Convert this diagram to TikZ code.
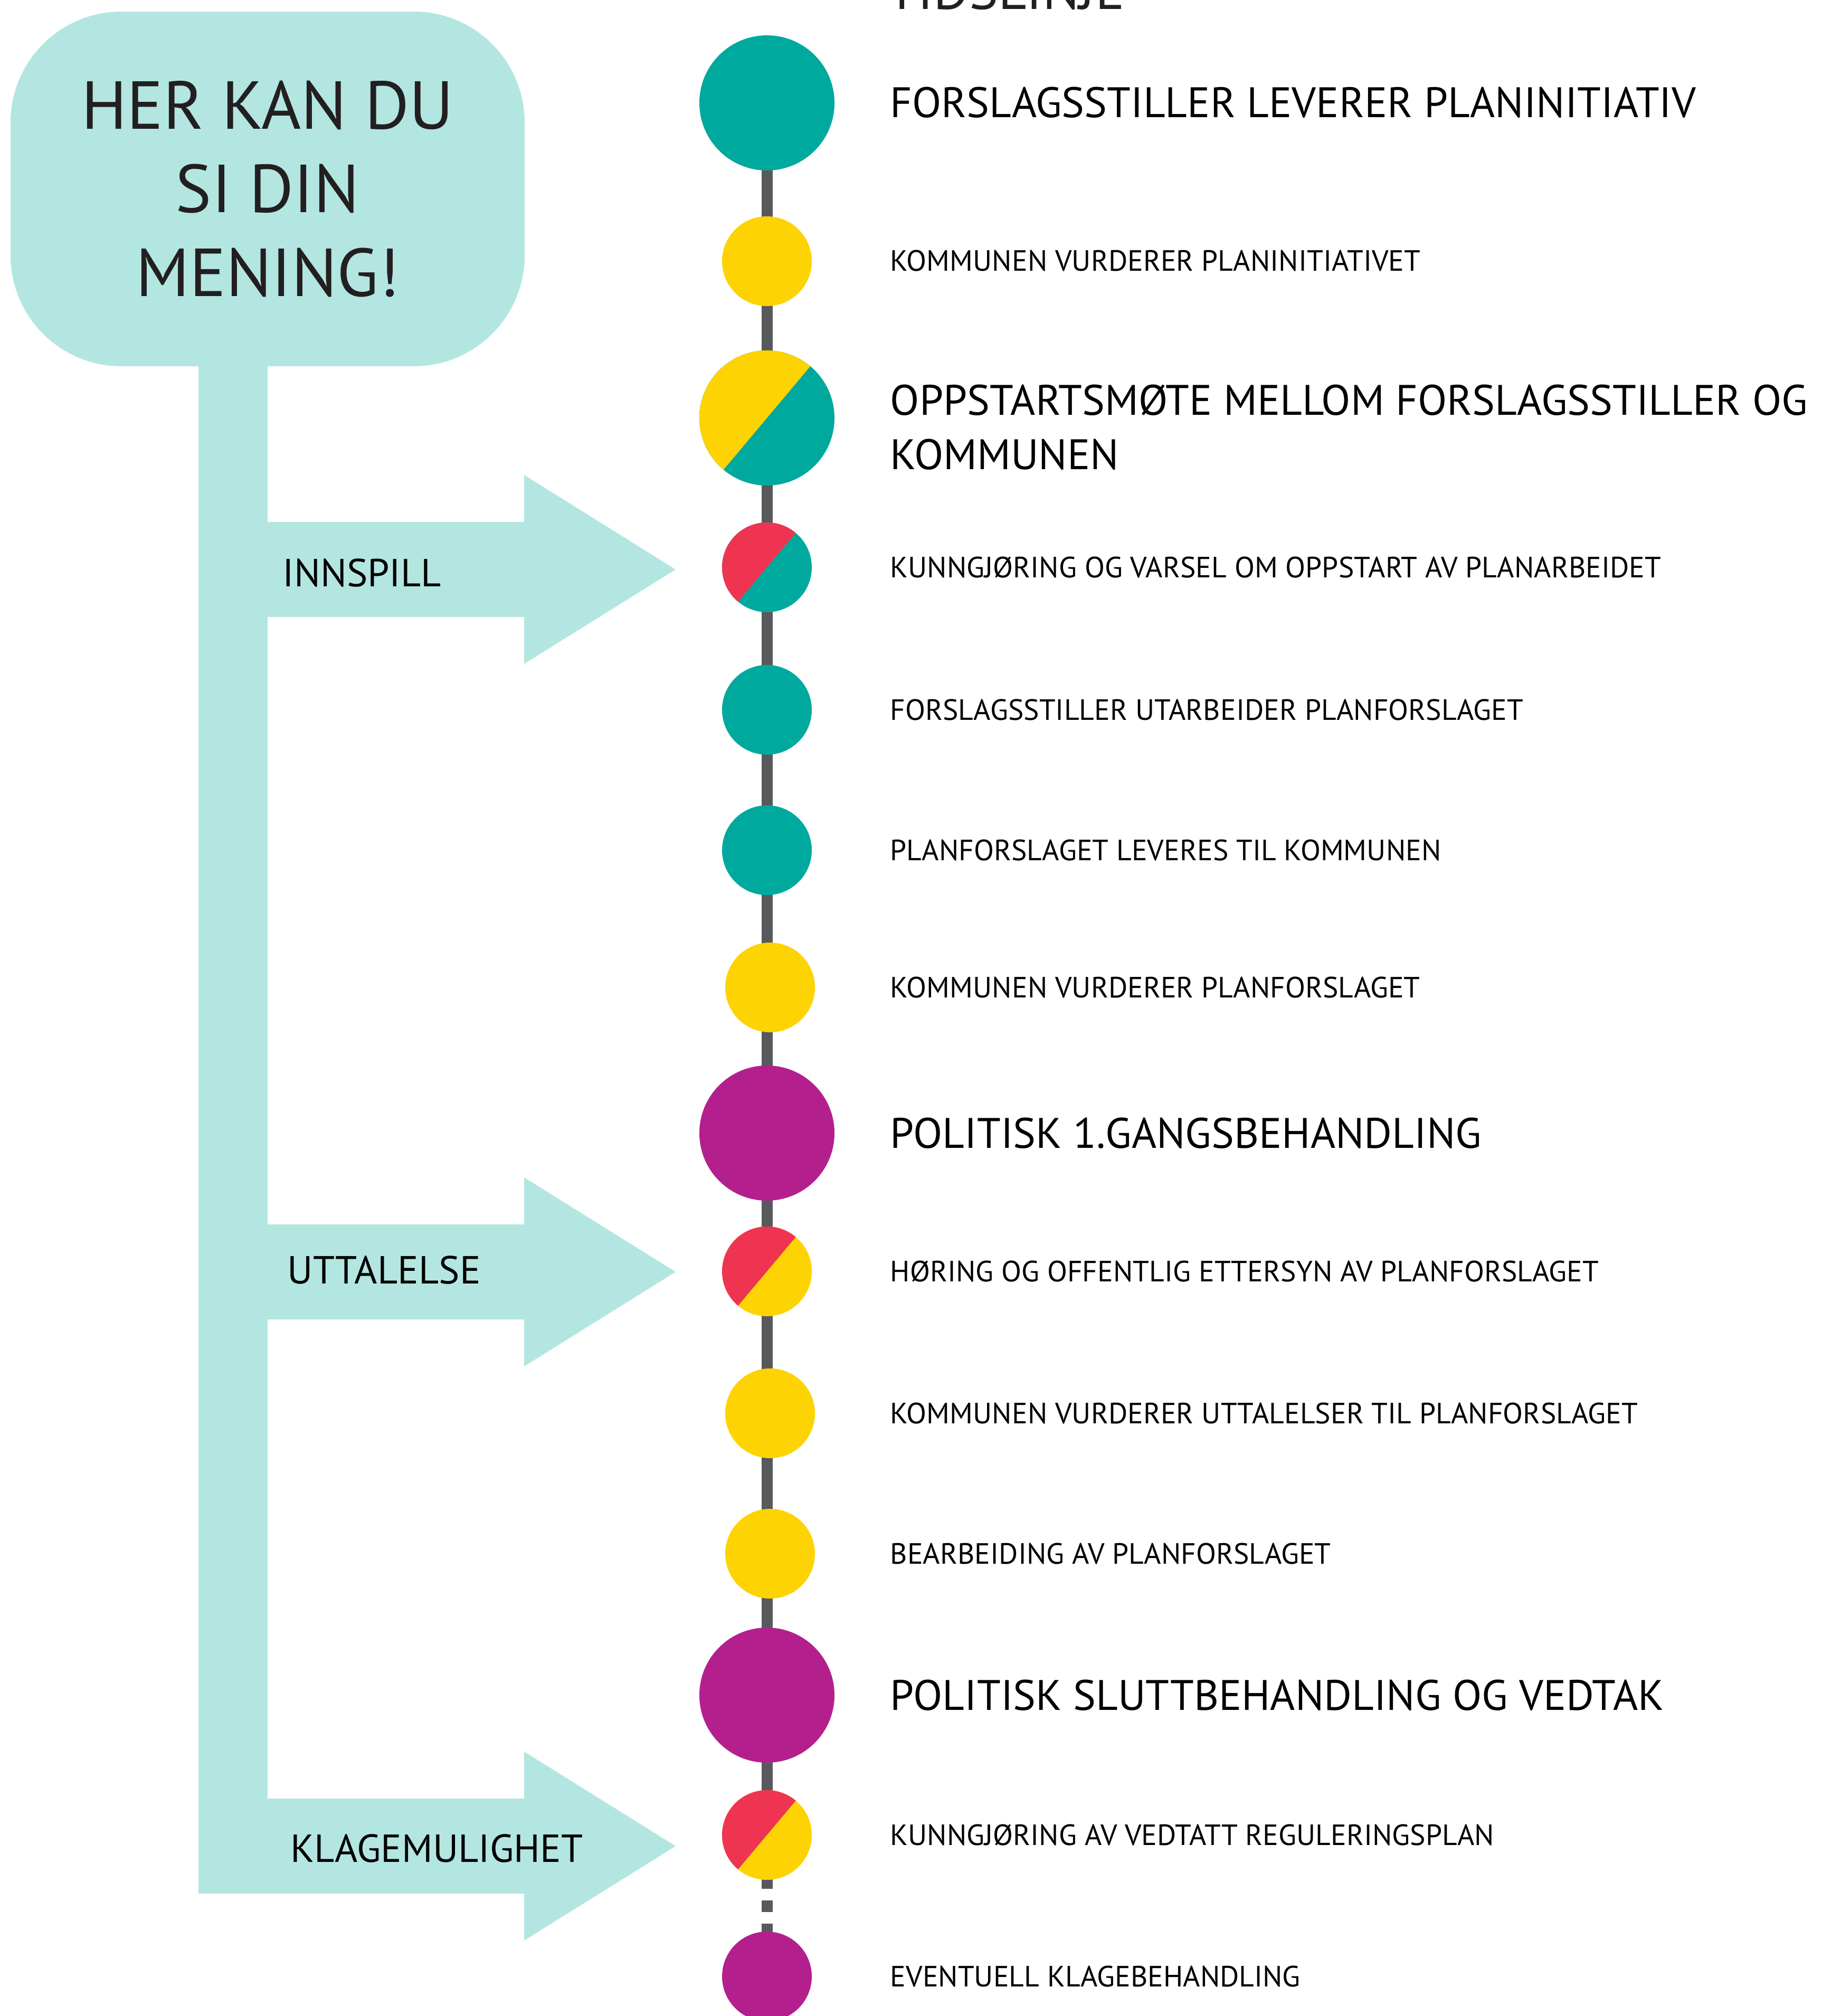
\documentclass[tikz,border=0pt]{standalone}
\usepackage{fontspec}
\setmainfont{PT Sans}
\usetikzlibrary{positioning}
\definecolor{mint}{HTML}{B3E6E1}
\definecolor{plteal}{HTML}{00A99D}
\definecolor{plyellow}{HTML}{FDD303}
\definecolor{plred}{HTML}{EF3451}
\definecolor{plmagenta}{HTML}{B3208D}
\definecolor{linegray}{HTML}{58595B}
\definecolor{ink}{HTML}{231F20}
\tikzset{
  dot/.style={circle,inner sep=0pt,minimum size=1.70cm},
  bigdot/.style={circle,inner sep=0pt,minimum size=2.56cm},
  half/.style={path picture={\fill[#1] (path picture bounding box.center)--++(50:2) arc[start angle=50,end angle=230,radius=2]--cycle;}},
  smalltxt/.style={anchor=base west,inner sep=0pt,text=black,font=\fontsize{15.8}{18}\selectfont},
  bigtxt/.style={anchor=base west,inner sep=0pt,text=black,font=\fontsize{23}{28}\selectfont},
  armtxt/.style={anchor=base west,inner sep=0pt,text=black,font=\fontsize{21.1}{25}\selectfont},
  bubble/.style={fill=mint,rounded corners=2.1cm,minimum width=9.74cm,minimum height=6.72cm,align=center,text=ink,font=\fontsize{36.6}{45.2}\selectfont},
}
\begin{document}
\begin{tikzpicture}
\useasboundingbox[fill=white](0,0) rectangle (34.87,-38.20);
%title
\node[anchor=base west,inner sep=0pt,text=ink,font=\fontsize{29.5}{34}\selectfont] (tidslinje) at (16.80,-0.18) {TIDSLINJE};
%bubble and arms
\fill[mint](3.76,-6.5) rectangle (5.07,-35.88);
\node[bubble] (mening) at (5.07,-3.58) {HER KAN DU\\SI DIN\\MENING!};
\foreach \y in {10.79,24.10,34.98}{\fill[mint](5.06,-\y)++(0,0.9)--++(4.87,0)--++(0,0.89)--++(2.87,-1.79)--++(-2.87,-1.79)--++(0,0.89)--++(-4.87,0)--cycle;}
\foreach \x/\y/\t in {5.35/11.11/INNSPILL,5.44/24.32/UTTALELSE,5.50/35.28/KLAGEMULIGHET}{\node[armtxt] (\t) at (\x,-\y) {\t};}
%timeline
\foreach \i/\x/\y in {1/14.53/1.95,2/14.53/4.95,3/14.53/7.92,4/14.53/10.75,5/14.53/13.45,6/14.53/16.11,7/14.59/18.71,8/14.53/21.47,9/14.53/24.09,10/14.59/26.78,11/14.59/29.44,12/14.53/32.12,13/14.53/34.77,14/14.53/37.45}{\coordinate (s\i) at (\x,-\y);}
\draw[linegray,line width=0.21cm](s1)--(s13);
\draw[linegray,line width=0.21cm,dash pattern=on 0.22cm off 0.22cm,dash phase=0.08cm](s13)--(s14);
\node[bigdot,fill=plteal] (c1) at (s1) {};
\node[dot,fill=plyellow] (c2) at (s2) {};
\node[bigdot,fill=plteal,half=plyellow] (c3) at (s3) {};
\node[dot,fill=plteal,half=plred] (c4) at (s4) {};
\node[dot,fill=plteal] (c5) at (s5) {};
\node[dot,fill=plteal] (c6) at (s6) {};
\node[dot,fill=plyellow] (c7) at (s7) {};
\node[bigdot,fill=plmagenta] (c8) at (s8) {};
\node[dot,fill=plyellow,half=plred] (c9) at (s9) {};
\node[dot,fill=plyellow] (c10) at (s10) {};
\node[dot,fill=plyellow] (c11) at (s11) {};
\node[bigdot,fill=plmagenta] (c12) at (s12) {};
\node[dot,fill=plyellow,half=plred] (c13) at (s13) {};
\node[dot,fill=plmagenta] (c14) at (s14) {};
%steps
\node[bigtxt] (t1) at (16.86,-2.23) {FORSLAGSSTILLER LEVERER PLANINITIATIV};
\node[smalltxt] (t2) at (16.86,-5.14) {KOMMUNEN VURDERER PLANINITIATIVET};
\node[bigtxt] (t3) at (16.86,-7.87) {OPPSTARTSMØTE MELLOM FORSLAGSSTILLER OG};
\node[bigtxt] (t3b) at (16.86,-8.89) {KOMMUNEN};
\node[smalltxt] (t4) at (16.86,-10.94) {KUNNGJØRING OG VARSEL OM OPPSTART AV PLANARBEIDET};
\node[smalltxt] (t5) at (16.86,-13.64) {FORSLAGSSTILLER UTARBEIDER PLANFORSLAGET};
\node[smalltxt] (t6) at (16.86,-16.30) {PLANFORSLAGET LEVERES TIL KOMMUNEN};
\node[smalltxt] (t7) at (16.86,-18.90) {KOMMUNEN VURDERER PLANFORSLAGET};
\node[bigtxt] (t8) at (16.86,-21.75) {POLITISK 1.GANGSBEHANDLING};
\node[smalltxt] (t9) at (16.86,-24.28) {HØRING OG OFFENTLIG ETTERSYN AV PLANFORSLAGET};
\node[smalltxt] (t10) at (16.86,-26.97) {KOMMUNEN VURDERER UTTALELSER TIL PLANFORSLAGET};
\node[smalltxt] (t11) at (16.86,-29.63) {BEARBEIDING AV PLANFORSLAGET};
\node[bigtxt] (t12) at (16.86,-32.40) {POLITISK SLUTTBEHANDLING OG VEDTAK};
\node[smalltxt] (t13) at (16.86,-34.96) {KUNNGJØRING AV VEDTATT REGULERINGSPLAN};
\node[smalltxt] (t14) at (16.86,-37.64) {EVENTUELL KLAGEBEHANDLING};
\end{tikzpicture}
\end{document}
